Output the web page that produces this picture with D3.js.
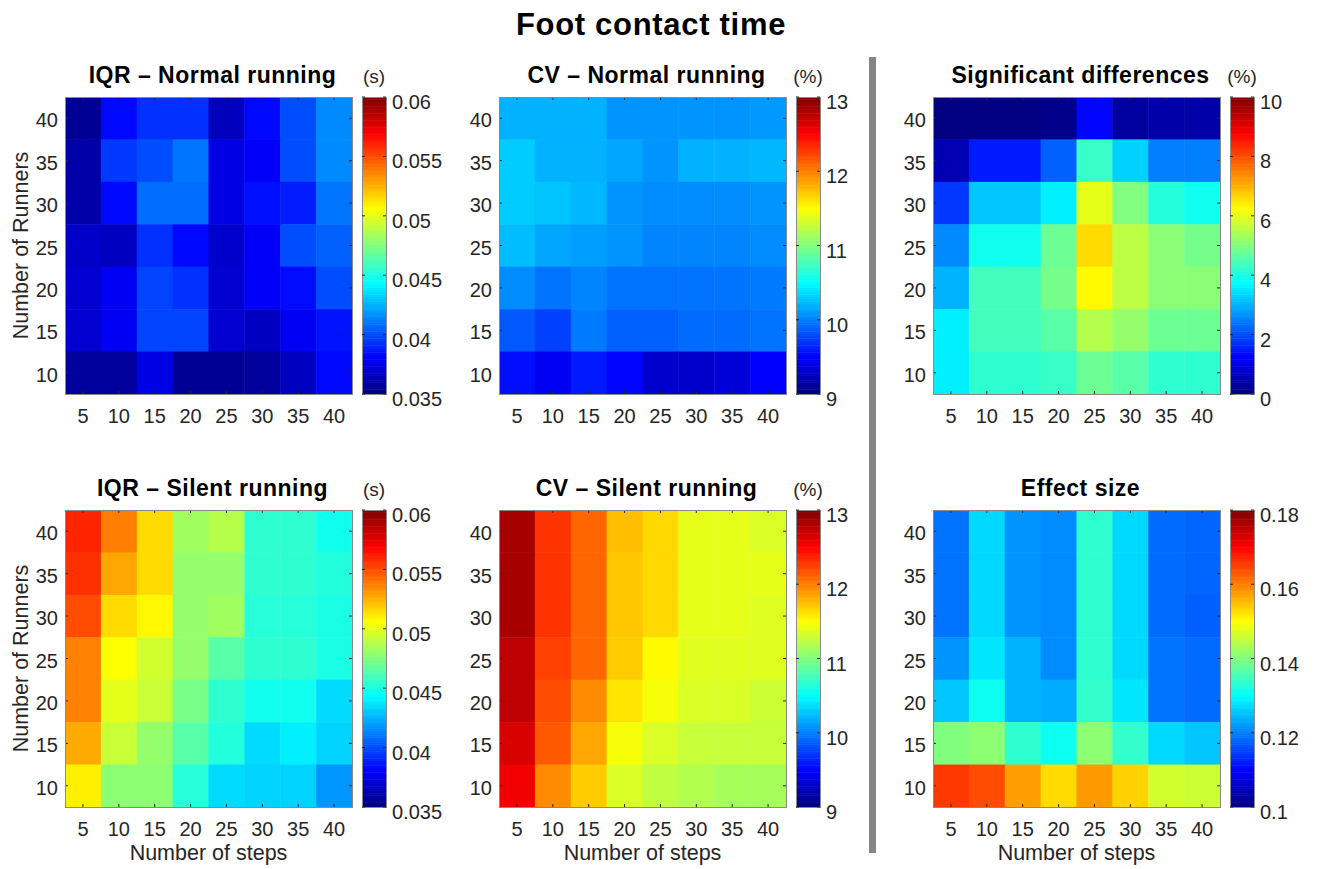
<!DOCTYPE html>
<html>
<head>
<meta charset="utf-8">
<script src="https://cdn.jsdelivr.net/npm/d3@7"></script>
<style>
  body { margin: 0; background: #fff; }
  svg { display: block; font-family: "Liberation Sans", Arial, sans-serif; }
</style>
</head>
<body>
<svg id="chart"></svg>
<script>
const WIDTH = 1317;
const HEIGHT = 869;

// x: number of steps, y: number of runners (top row first)
const steps = [5, 10, 15, 20, 25, 30, 35, 40];
const runners = [40, 35, 30, 25, 20, 15, 10];

const iqrNormal = [
    [0.0355, 0.0383, 0.0393, 0.0393, 0.0365, 0.0383, 0.0400, 0.0415],
    [0.0360, 0.0395, 0.0400, 0.0410, 0.0375, 0.0380, 0.0400, 0.0415],
    [0.0360, 0.0383, 0.0408, 0.0408, 0.0375, 0.0385, 0.0388, 0.0410],
    [0.0368, 0.0366, 0.0393, 0.0383, 0.0369, 0.0380, 0.0400, 0.0405],
    [0.0370, 0.0378, 0.0398, 0.0393, 0.0370, 0.0380, 0.0384, 0.0400],
    [0.0370, 0.0378, 0.0398, 0.0398, 0.0370, 0.0366, 0.0378, 0.0386],
    [0.0357, 0.0357, 0.0375, 0.0355, 0.0355, 0.0357, 0.0366, 0.0383]
];

const cvNormal = [
    [10.20, 10.20, 10.20, 10.08, 10.08, 10.08, 10.08, 10.10],
    [10.30, 10.20, 10.20, 10.15, 10.08, 10.20, 10.20, 10.22],
    [10.30, 10.27, 10.22, 10.08, 10.05, 10.05, 10.05, 10.08],
    [10.24, 10.15, 10.12, 10.08, 10.02, 10.02, 10.02, 10.05],
    [10.05, 9.95, 10.02, 9.95, 9.95, 9.95, 9.95, 9.98],
    [9.85, 9.75, 9.98, 9.88, 9.88, 9.92, 9.92, 9.95],
    [9.55, 9.45, 9.60, 9.52, 9.30, 9.30, 9.35, 9.50]
];

const sigDiff = [
    [0.0, 0.0, 0.0, 0.1, 1.3, 0.3, 0.4, 0.4],
    [0.5, 1.5, 1.5, 2.2, 4.3, 3.3, 2.5, 2.5],
    [1.8, 3.2, 3.2, 3.6, 6.0, 5.0, 4.1, 3.9],
    [2.6, 3.9, 3.9, 4.8, 6.6, 5.6, 5.1, 4.9],
    [3.0, 4.4, 4.4, 4.9, 6.3, 5.6, 5.1, 5.1],
    [3.6, 4.4, 4.4, 4.6, 5.5, 5.2, 4.8, 4.8],
    [3.6, 4.2, 4.2, 4.3, 4.8, 4.6, 4.2, 4.2]
];

const iqrSilent = [
    [0.0560, 0.0538, 0.0515, 0.0483, 0.0488, 0.0455, 0.0455, 0.0448],
    [0.0557, 0.0528, 0.0515, 0.0480, 0.0480, 0.0455, 0.0455, 0.0452],
    [0.0550, 0.0515, 0.0508, 0.0480, 0.0483, 0.0453, 0.0453, 0.0450],
    [0.0537, 0.0506, 0.0495, 0.0480, 0.0465, 0.0455, 0.0455, 0.0450],
    [0.0537, 0.0500, 0.0493, 0.0473, 0.0455, 0.0448, 0.0448, 0.0435],
    [0.0527, 0.0493, 0.0480, 0.0465, 0.0452, 0.0435, 0.0440, 0.0433],
    [0.0510, 0.0478, 0.0478, 0.0453, 0.0435, 0.0433, 0.0433, 0.0418]
];

const cvSilent = [
    [12.85, 12.30, 12.10, 11.75, 11.65, 11.40, 11.40, 11.35],
    [12.85, 12.30, 12.10, 11.72, 11.65, 11.40, 11.40, 11.40],
    [12.85, 12.30, 12.10, 11.72, 11.65, 11.40, 11.40, 11.37],
    [12.75, 12.25, 12.10, 11.70, 11.52, 11.38, 11.38, 11.38],
    [12.75, 12.20, 11.95, 11.60, 11.47, 11.35, 11.35, 11.30],
    [12.65, 12.15, 11.85, 11.47, 11.35, 11.28, 11.28, 11.28],
    [12.55, 11.95, 11.70, 11.35, 11.25, 11.20, 11.15, 11.15]
];

const effectSize = [
    [0.1190, 0.1270, 0.1216, 0.1210, 0.1336, 0.1270, 0.1185, 0.1180],
    [0.1190, 0.1270, 0.1216, 0.1210, 0.1336, 0.1270, 0.1185, 0.1180],
    [0.1190, 0.1270, 0.1216, 0.1210, 0.1336, 0.1270, 0.1185, 0.1175],
    [0.1216, 0.1280, 0.1240, 0.1210, 0.1336, 0.1270, 0.1190, 0.1185],
    [0.1256, 0.1310, 0.1240, 0.1235, 0.1340, 0.1280, 0.1190, 0.1185],
    [0.1400, 0.1410, 0.1336, 0.1310, 0.1410, 0.1340, 0.1270, 0.1256],
    [0.1656, 0.1640, 0.1576, 0.1528, 0.1580, 0.1535, 0.1464, 0.1460]
];

const iqrTicks = [0.035, 0.04, 0.045, 0.05, 0.055, 0.06];
const cvTicks = [9, 10, 11, 12, 13];
const sigTicks = [0, 2, 4, 6, 8, 10];
const effectTicks = [0.1, 0.12, 0.14, 0.16, 0.18];

const COL_X = [65, 499, 933];
const ROW_Y = [97, 510];
const PLOT_W = 287;
const PLOT_H = 297;
const CBAR_OFFSET = 297;
const CBAR_W = 24;
const TEXT = '#262626';
const FRAME = '#8a8a8a';

const panels = [
    { data: iqrNormal, title: 'IQR – Normal running', unit: '(s)', ticks: iqrTicks, col: 0, row: 0 },
    { data: cvNormal, title: 'CV – Normal running', unit: '(%)', ticks: cvTicks, col: 1, row: 0 },
    { data: sigDiff, title: 'Significant differences', unit: '(%)', ticks: sigTicks, col: 2, row: 0 },
    { data: iqrSilent, title: 'IQR – Silent running', unit: '(s)', ticks: iqrTicks, col: 0, row: 1 },
    { data: cvSilent, title: 'CV – Silent running', unit: '(%)', ticks: cvTicks, col: 1, row: 1 },
    { data: effectSize, title: 'Effect size', unit: '', ticks: effectTicks, col: 2, row: 1 }
];

// matlab style jet colormap
function jet(t) {
    const c = v => Math.max(0, Math.min(1, v)) * 255;
    return d3.rgb(c(1.5 - Math.abs(4 * t - 3)), c(1.5 - Math.abs(4 * t - 2)), c(1.5 - Math.abs(4 * t - 1))).toString();
}

const svg = d3.select('#chart')
    .attr('width', WIDTH)
    .attr('height', HEIGHT);

svg.append('text')
    .attr('x', 651)
    .attr('y', 35)
    .attr('text-anchor', 'middle')
    .style('font-size', '31px')
    .style('font-weight', 'bold')
    .style('letter-spacing', '0.7px')
    .text('Foot contact time');

// divider between the raw panels and the comparison panels
svg.append('rect')
    .attr('x', 869)
    .attr('y', 57)
    .attr('width', 7)
    .attr('height', 796)
    .attr('fill', '#858585');

panels.forEach(p => drawPanel(p));

function drawPanel(p) {
    const left = COL_X[p.col];
    const top = ROW_Y[p.row];
    const domain = d3.extent(p.ticks);

    const x = d3.scaleBand().domain(steps).range([left, left + PLOT_W]);
    const y = d3.scaleBand().domain(runners).range([top, top + PLOT_H]);
    const color = d3.scaleSequential(jet).domain(domain);

    const g = svg.append('g');

    const cells = p.data.flatMap((row, i) => row.map((v, j) => ({ s: steps[j], r: runners[i], v })));
    g.selectAll('.cell')
        .data(cells)
        .join('rect')
        .attr('class', 'cell')
        .attr('x', d => x(d.s))
        .attr('y', d => y(d.r))
        .attr('width', x.bandwidth() + 0.5)
        .attr('height', y.bandwidth() + 0.5)
        .attr('fill', d => color(d.v));

    // ticks inside on all four sides
    const tickLen = 3;
    const tx = steps.map(s => x(s) + x.bandwidth() / 2);
    const ty = runners.map(r => y(r) + y.bandwidth() / 2);
    tx.forEach(cx => {
        g.append('line').attr('x1', cx).attr('x2', cx).attr('y1', top).attr('y2', top + tickLen);
        g.append('line').attr('x1', cx).attr('x2', cx).attr('y1', top + PLOT_H).attr('y2', top + PLOT_H - tickLen);
    });
    ty.forEach(cy => {
        g.append('line').attr('x1', left).attr('x2', left + tickLen).attr('y1', cy).attr('y2', cy);
        g.append('line').attr('x1', left + PLOT_W).attr('x2', left + PLOT_W - tickLen).attr('y1', cy).attr('y2', cy);
    });
    g.selectAll('line').attr('stroke', TEXT).attr('stroke-width', 1);

    g.append('rect')
        .attr('x', left + 0.5)
        .attr('y', top + 0.5)
        .attr('width', PLOT_W)
        .attr('height', PLOT_H)
        .attr('fill', 'none')
        .attr('stroke', FRAME);

    g.selectAll('.xlab')
        .data(steps)
        .join('text')
        .attr('class', 'xlab')
        .attr('x', d => x(d) + x.bandwidth() / 2)
        .attr('y', top + PLOT_H + 29)
        .attr('text-anchor', 'middle')
        .attr('fill', TEXT)
        .style('font-size', '20px')
        .text(d => d);

    g.selectAll('.ylab')
        .data(runners)
        .join('text')
        .attr('class', 'ylab')
        .attr('x', left - 7)
        .attr('y', d => y(d) + y.bandwidth() / 2 + 9)
        .attr('text-anchor', 'end')
        .attr('fill', TEXT)
        .style('font-size', '20px')
        .text(d => d);

    g.append('text')
        .attr('x', left + PLOT_W / 2 + 4)
        .attr('y', top - 14)
        .attr('text-anchor', 'middle')
        .style('font-size', '23px')
        .style('font-weight', 'bold')
        .style('letter-spacing', '0.5px')
        .text(p.title);

    if (p.col === 0) {
        g.append('text')
            .attr('transform', `translate(28,${top + PLOT_H / 2}) rotate(-90)`)
            .attr('text-anchor', 'middle')
            .attr('fill', TEXT)
            .style('font-size', '21.5px')
            .text('Number of Runners');
    }
    if (p.row === 1) {
        g.append('text')
            .attr('x', left + PLOT_W / 2)
            .attr('y', top + PLOT_H + 53)
            .attr('text-anchor', 'middle')
            .attr('fill', TEXT)
            .style('font-size', '21.5px')
            .text('Number of steps');
    }

    // colorbar
    const cx0 = left + CBAR_OFFSET;
    const cScale = d3.scaleLinear().domain(domain).range([top + PLOT_H, top]);
    const levels = d3.range(128).map(i => domain[0] + (domain[1] - domain[0]) * i / 128);
    const step = (domain[1] - domain[0]) / 128;
    g.selectAll('.cb')
        .data(levels)
        .join('rect')
        .attr('class', 'cb')
        .attr('x', cx0)
        .attr('y', d => cScale(d + step))
        .attr('width', CBAR_W)
        .attr('height', d => cScale(d) - cScale(d + step) + 0.5)
        .attr('fill', d => color(d + step / 2));

    g.append('rect')
        .attr('x', cx0 + 0.5)
        .attr('y', top + 0.5)
        .attr('width', CBAR_W)
        .attr('height', PLOT_H)
        .attr('fill', 'none')
        .attr('stroke', FRAME);

    p.ticks.forEach(t => {
        const cy = cScale(t);
        g.append('line').attr('x1', cx0).attr('x2', cx0 + 3).attr('y1', cy).attr('y2', cy).attr('stroke', TEXT);
        g.append('line').attr('x1', cx0 + CBAR_W).attr('x2', cx0 + CBAR_W - 3).attr('y1', cy).attr('y2', cy).attr('stroke', TEXT);
        g.append('text')
            .attr('x', cx0 + CBAR_W + 6)
            .attr('y', cy + 12)
            .attr('fill', TEXT)
            .style('font-size', '20px')
            .text(String(+t.toFixed(3)));
    });

    if (p.unit) {
        g.append('text')
            .attr('x', cx0 + CBAR_W / 2)
            .attr('y', top - 14)
            .attr('text-anchor', 'middle')
            .attr('fill', TEXT)
            .style('font-size', '19px')
            .text(p.unit);
    }
}
</script>
</body>
</html>
